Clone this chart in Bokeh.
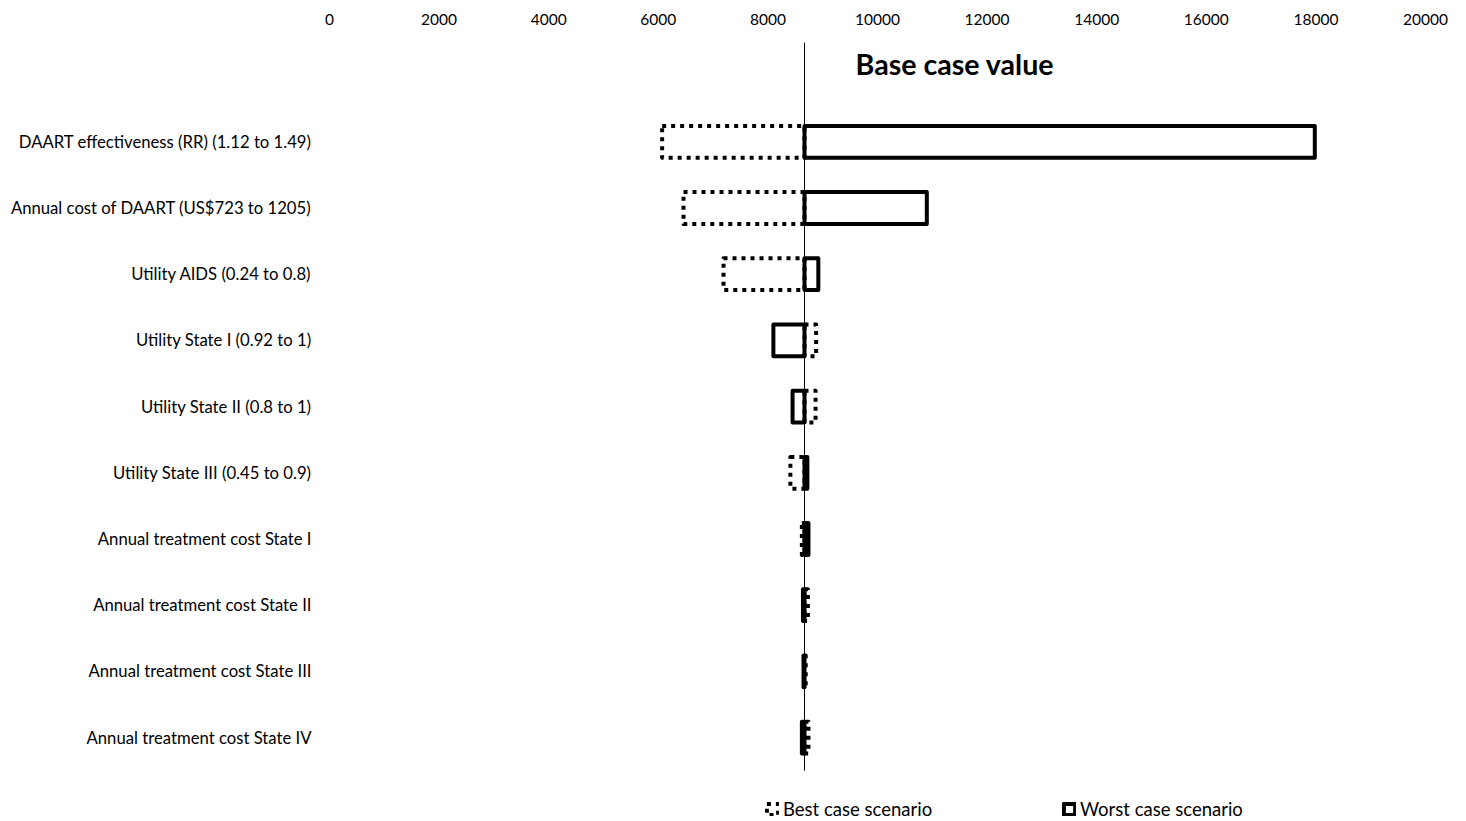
from bokeh.plotting import figure
from bokeh.models import (Range1d, FixedTicker, LinearAxis, Label, Legend,
                          LegendItem, ColumnDataSource)
from bokeh.embed import file_html
from bokeh.resources import INLINE

# ---- data ----
parameters = [
    "DAART effectiveness (RR) (1.12 to 1.49)",
    "Annual cost of DAART (US$723 to 1205)",
    "Utility AIDS (0.24 to 0.8)",
    "Utility State I (0.92 to 1)",
    "Utility State II (0.8 to 1)",
    "Utility State III (0.45 to 0.9)",
    "Annual treatment cost State I",
    "Annual treatment cost State II",
    "Annual treatment cost State III",
    "Annual treatment cost State IV",
]
base_case = 8668
best_case = [6070, 6460, 7190, 8880, 8870, 8410, 8620, 8730, 8690, 8740]
worst_case = [17980, 10900, 8920, 8100, 8450, 8720, 8740, 8640, 8650, 8620]
x_ticks = [0, 2000, 4000, 6000, 8000, 10000, 12000, 14000, 16000, 18000, 20000]

FONT = "Lato"
rows = list(range(len(parameters)))

best_src = ColumnDataSource(dict(
    y=rows,
    left=[min(base_case, v) for v in best_case],
    right=[max(base_case, v) for v in best_case],
))
worst_src = ColumnDataSource(dict(
    y=rows,
    left=[min(base_case, v) for v in worst_case],
    right=[max(base_case, v) for v in worst_case],
))

p = figure(width=1460, height=820, output_backend="svg", toolbar_location=None,
           x_range=Range1d(0, 20000), y_range=Range1d(10.252, -1.5),
           x_axis_location=None, y_axis_location=None,
           min_border_left=329, min_border_right=35, min_border_top=42,
           min_border_bottom=0)
p.outline_line_color = None
p.grid.visible = False
p.background_fill_color = "white"
p.border_fill_color = "white"

# top axis
xax = LinearAxis(ticker=FixedTicker(ticks=x_ticks))
xax.axis_line_color = None
xax.major_tick_line_color = None
xax.minor_tick_line_color = None
xax.major_tick_out = 0
xax.major_tick_in = 0
xax.major_label_standoff = 18
xax.major_label_text_font = FONT
xax.major_label_text_font_size = "15.5px"
xax.major_label_text_color = "black"
p.add_layout(xax, "above")

# left category axis
yax = LinearAxis(ticker=FixedTicker(ticks=rows),
                 major_label_overrides={i: s for i, s in enumerate(parameters)})
yax.axis_line_color = None
yax.major_tick_line_color = None
yax.minor_tick_line_color = None
yax.major_tick_out = 0
yax.major_tick_in = 0
yax.major_label_standoff = 18
yax.major_label_text_font = FONT
yax.major_label_text_font_size = "16.7px"
yax.major_label_text_color = "black"
p.add_layout(yax, "left")

# base case vertical line
p.segment(x0=[base_case], y0=[-1.5], x1=[base_case], y1=[9.5],
          line_color="black", line_width=1)

H = 0.48
r_best = p.hbar(y="y", left="left", right="right", height=H, source=best_src,
                fill_color=None, line_color="black", line_width=4, line_dash="4 5",
                line_join="round")
r_worst = p.hbar(y="y", left="left", right="right", height=H, source=worst_src,
                 fill_color=None, line_color="black", line_width=4, line_join="round")

p.add_layout(Label(x=9599, y=-1.18, text="Base case value", text_font=FONT,
                   text_font_size="28.6px", text_font_style="bold",
                   text_baseline="middle", text_color="black"))

def make_legend(label, renderer, x):
    return Legend(items=[LegendItem(label=label, renderers=[renderer])],
                  location=(x, 0), orientation="horizontal",
                  glyph_width=14, glyph_height=14, label_standoff=4,
                  padding=0, margin=0, border_line_color=None,
                  background_fill_alpha=0, label_text_font=FONT,
                  label_text_font_size="18.5px", label_text_color="black",
                  label_height=18)

p.add_layout(make_legend("Best case scenario", r_best, 436))
p.add_layout(make_legend("Worst case scenario", r_worst, 733))

open("out.html", "w").write(file_html(p, INLINE))
